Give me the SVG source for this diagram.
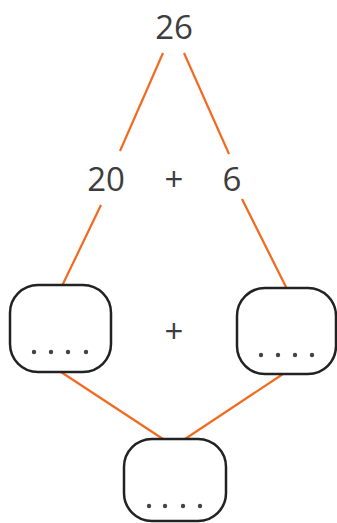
<svg xmlns="http://www.w3.org/2000/svg" width="337" height="523" viewBox="0 0 337 523">
<style>
.num{font-family:"Open Sans","Noto Sans",sans-serif;font-size:33px;fill:#3d3d3d;text-anchor:middle}
.plus{font-family:"Open Sans","Noto Sans",sans-serif;font-size:33px;fill:#3d3d3d;text-anchor:middle}
.box{fill:#fff;stroke:#222;stroke-width:2.5}
.dot{fill:#444}
.conn line{stroke:#f26a1f;stroke-width:2.2;stroke-linecap:butt}
</style>
<rect width="337" height="523" fill="#fff"/>
<g class="conn" id="connectors">
<line x1="163" y1="53" x2="120" y2="151"/>
<line x1="184" y1="53" x2="229" y2="154"/>
<line x1="101" y1="205" x2="62" y2="286"/>
<line x1="242" y1="199" x2="287" y2="289"/>
<line x1="61" y1="372" x2="163" y2="439"/>
<line x1="283" y1="374" x2="185" y2="439"/>
</g>
<g id="n26"><text class="num" x="174" y="39">26</text></g>
<g id="n20"><text class="num" x="106" y="191">20</text></g>
<g id="plus1"><text class="plus" x="174" y="191">+</text></g>
<g id="n6"><text class="num" x="232" y="191">6</text></g>
<g id="boxL">
<rect class="box" x="10" y="285" width="101" height="87" rx="28"/>
<circle class="dot" cx="34" cy="352" r="2.2"/><circle class="dot" cx="51" cy="352" r="2.2"/><circle class="dot" cx="68" cy="352" r="2.2"/><circle class="dot" cx="86" cy="352" r="2.2"/>
</g>
<g id="plus2"><text class="plus" x="174" y="343">+</text></g>
<g id="boxR">
<rect class="box" x="237" y="288" width="99" height="86" rx="28"/>
<circle class="dot" cx="261" cy="355" r="2.2"/><circle class="dot" cx="278" cy="355" r="2.2"/><circle class="dot" cx="295" cy="355" r="2.2"/><circle class="dot" cx="312" cy="355" r="2.2"/>
</g>
<g id="boxB">
<rect class="box" x="124" y="439" width="102" height="82" rx="28"/>
<circle class="dot" cx="149" cy="506" r="2.2"/><circle class="dot" cx="165" cy="506" r="2.2"/><circle class="dot" cx="183" cy="506" r="2.2"/><circle class="dot" cx="200" cy="506" r="2.2"/>
</g>
</svg>
